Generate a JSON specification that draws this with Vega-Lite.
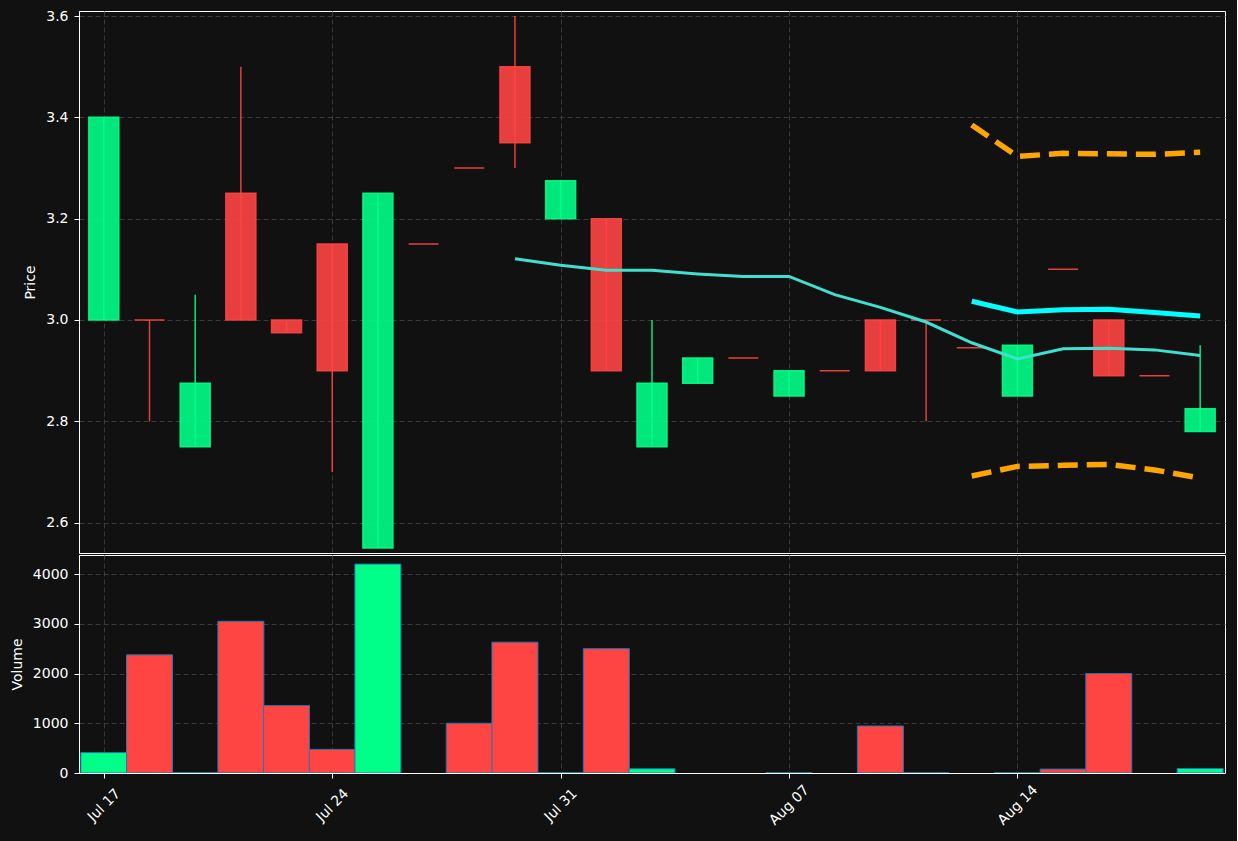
{
  "$schema": "https://vega.github.io/schema/vega-lite/v6.json",
  "background": "#111111",
  "padding": {"left": 9, "top": 8, "right": 11, "bottom": 14},
  "spacing": 0,
  "datasets": {
    "ohlc": [
      {"i": 0, "date": "2023-07-17", "open": 3.0, "high": 3.4, "low": 3.0, "close": 3.4, "dir": "up", "volume": 410, "ma": null, "fc": null, "upper": null, "lower": null},
      {"i": 1, "date": "2023-07-18", "open": 3.0, "high": 3.0, "low": 2.8, "close": 3.0, "dir": "down", "volume": 2375, "ma": null, "fc": null, "upper": null, "lower": null},
      {"i": 2, "date": "2023-07-19", "open": 2.75, "high": 3.05, "low": 2.75, "close": 2.875, "dir": "up", "volume": 8, "ma": null, "fc": null, "upper": null, "lower": null},
      {"i": 3, "date": "2023-07-20", "open": 3.25, "high": 3.5, "low": 3.0, "close": 3.0, "dir": "down", "volume": 3050, "ma": null, "fc": null, "upper": null, "lower": null},
      {"i": 4, "date": "2023-07-21", "open": 3.0, "high": 3.0, "low": 2.975, "close": 2.975, "dir": "down", "volume": 1355, "ma": null, "fc": null, "upper": null, "lower": null},
      {"i": 5, "date": "2023-07-24", "open": 3.15, "high": 3.15, "low": 2.7, "close": 2.9, "dir": "down", "volume": 475, "ma": null, "fc": null, "upper": null, "lower": null},
      {"i": 6, "date": "2023-07-25", "open": 2.55, "high": 3.25, "low": 2.55, "close": 3.25, "dir": "up", "volume": 4200, "ma": null, "fc": null, "upper": null, "lower": null},
      {"i": 7, "date": "2023-07-26", "open": 3.15, "high": 3.15, "low": 3.15, "close": 3.15, "dir": "down", "volume": null, "ma": null, "fc": null, "upper": null, "lower": null},
      {"i": 8, "date": "2023-07-27", "open": 3.3, "high": 3.3, "low": 3.3, "close": 3.3, "dir": "down", "volume": 1000, "ma": null, "fc": null, "upper": null, "lower": null},
      {"i": 9, "date": "2023-07-28", "open": 3.5, "high": 3.6, "low": 3.3, "close": 3.35, "dir": "down", "volume": 2630, "ma": 3.121, "fc": null, "upper": null, "lower": null},
      {"i": 10, "date": "2023-07-31", "open": 3.2, "high": 3.275, "low": 3.2, "close": 3.275, "dir": "up", "volume": 8, "ma": 3.108, "fc": null, "upper": null, "lower": null},
      {"i": 11, "date": "2023-08-01", "open": 3.2, "high": 3.2, "low": 2.9, "close": 2.9, "dir": "down", "volume": 2500, "ma": 3.098, "fc": null, "upper": null, "lower": null},
      {"i": 12, "date": "2023-08-02", "open": 2.75, "high": 3.0, "low": 2.75, "close": 2.875, "dir": "up", "volume": 85, "ma": 3.098, "fc": null, "upper": null, "lower": null},
      {"i": 13, "date": "2023-08-03", "open": 2.875, "high": 2.925, "low": 2.875, "close": 2.925, "dir": "up", "volume": null, "ma": 3.091, "fc": null, "upper": null, "lower": null},
      {"i": 14, "date": "2023-08-04", "open": 2.925, "high": 2.925, "low": 2.925, "close": 2.925, "dir": "down", "volume": null, "ma": 3.086, "fc": null, "upper": null, "lower": null},
      {"i": 15, "date": "2023-08-07", "open": 2.85, "high": 2.9, "low": 2.85, "close": 2.9, "dir": "up", "volume": 5, "ma": 3.086, "fc": null, "upper": null, "lower": null},
      {"i": 16, "date": "2023-08-08", "open": 2.9, "high": 2.9, "low": 2.9, "close": 2.9, "dir": "down", "volume": null, "ma": 3.05, "fc": null, "upper": null, "lower": null},
      {"i": 17, "date": "2023-08-09", "open": 3.0, "high": 3.0, "low": 2.9, "close": 2.9, "dir": "down", "volume": 945, "ma": 3.025, "fc": null, "upper": null, "lower": null},
      {"i": 18, "date": "2023-08-10", "open": 3.0, "high": 3.0, "low": 2.8, "close": 3.0, "dir": "down", "volume": 5, "ma": 2.996, "fc": null, "upper": null, "lower": null},
      {"i": 19, "date": "2023-08-11", "open": 2.945, "high": 2.945, "low": 2.945, "close": 2.945, "dir": "down", "volume": null, "ma": 2.955, "fc": 3.037, "upper": 3.385, "lower": 2.692},
      {"i": 20, "date": "2023-08-14", "open": 2.85, "high": 2.95, "low": 2.85, "close": 2.95, "dir": "up", "volume": 5, "ma": 2.923, "fc": 3.016, "upper": 3.323, "lower": 2.711},
      {"i": 21, "date": "2023-08-15", "open": 3.1, "high": 3.1, "low": 3.1, "close": 3.1, "dir": "down", "volume": 78, "ma": 2.943, "fc": 3.02, "upper": 3.329, "lower": 2.713},
      {"i": 22, "date": "2023-08-16", "open": 3.0, "high": 3.0, "low": 2.89, "close": 2.89, "dir": "down", "volume": 2000, "ma": 2.944, "fc": 3.021, "upper": 3.328, "lower": 2.715},
      {"i": 23, "date": "2023-08-17", "open": 2.89, "high": 2.89, "low": 2.89, "close": 2.89, "dir": "down", "volume": null, "ma": 2.941, "fc": 3.015, "upper": 3.327, "lower": 2.704},
      {"i": 24, "date": "2023-08-18", "open": 2.78, "high": 2.95, "low": 2.78, "close": 2.825, "dir": "up", "volume": 90, "ma": 2.93, "fc": 3.008, "upper": 3.331, "lower": 2.688}
    ]
  },
  "vconcat": [
    {
      "width": 1146,
      "height": 542,
      "data": {"name": "ohlc"},
      "encoding": {
        "x": {
          "field": "i",
          "type": "quantitative",
          "title": null,
          "scale": {"domain": [-0.434, 24.434], "nice": false, "zero": false},
          "axis": {"values": [0, 5, 10, 15, 20], "labels": false, "ticks": false, "domain": false, "grid": true, "title": null}
        }
      },
      "layer": [
        {
          "mark": {"type": "rule", "strokeWidth": 1.5, "opacity": 0.9},
          "encoding": {
            "y": {
              "field": "low",
              "type": "quantitative",
              "title": "Price",
              "scale": {"domain": [2.54, 3.61], "nice": false, "zero": false},
              "axis": {
                "values": [2.6, 2.8, 3.0, 3.2, 3.4, 3.6],
                "format": ".1f",
                "grid": true,
                "title": "Price",
                "labelFont": "DejaVu Sans",
                "labelFontSize": 14,
                "titleFont": "DejaVu Sans",
                "titleFontSize": 14,
                "titleFontWeight": "normal",
                "labelPadding": 6,
                "titlePadding": 8
              }
            },
            "y2": {"field": "high"},
            "color": {"field": "dir", "type": "nominal", "scale": {"domain": ["up", "down"], "range": ["#00FF88", "#FF4444"]}, "legend": null}
          }
        },
        {
          "mark": {"type": "bar", "width": 30, "fillOpacity": 0.9, "strokeOpacity": 0.9, "strokeWidth": 1.5},
          "encoding": {
            "y": {"field": "open", "type": "quantitative", "title": "Price"},
            "y2": {"field": "close"},
            "color": {"field": "dir", "type": "nominal", "scale": {"domain": ["up", "down"], "range": ["#00FF88", "#FF4444"]}, "legend": null},
            "stroke": {"field": "dir", "type": "nominal", "scale": {"domain": ["up", "down"], "range": ["#00FF88", "#FF4444"]}, "legend": null}
          }
        },
        {
          "mark": {"type": "line", "color": "#40E0D0", "strokeWidth": 3},
          "encoding": {"y": {"field": "ma", "type": "quantitative", "title": "Price"}}
        },
        {
          "mark": {"type": "line", "color": "#00FFFF", "strokeWidth": 5},
          "encoding": {"y": {"field": "fc", "type": "quantitative", "title": "Price"}}
        },
        {
          "mark": {"type": "line", "color": "#FFA500", "strokeWidth": 5.5, "strokeDash": [20, 9]},
          "encoding": {"y": {"field": "upper", "type": "quantitative", "title": "Price"}}
        },
        {
          "mark": {"type": "line", "color": "#FFA500", "strokeWidth": 5.5, "strokeDash": [20, 9]},
          "encoding": {"y": {"field": "lower", "type": "quantitative", "title": "Price"}}
        }
      ]
    },
    {
      "width": 1146,
      "height": 218,
      "data": {"name": "ohlc"},
      "mark": {"type": "bar", "width": 46, "stroke": "#1f77b4", "strokeWidth": 1, "clip": true},
      "encoding": {
        "x": {
          "field": "i",
          "type": "quantitative",
          "title": null,
          "scale": {"domain": [-0.434, 24.434], "nice": false, "zero": false},
          "axis": {
            "values": [0, 5, 10, 15, 20],
            "labelExpr": "['Jul 17','Jul 24','Jul 31','Aug 07','Aug 14'][round(datum.value/5)]",
            "labelAngle": -45,
            "labelAlign": "center",
            "labelBaseline": "middle",
            "labelPadding": 27,
            "labelOverlap": false,
            "labelFlush": false,
            "labelFont": "DejaVu Sans",
            "labelFontSize": 14,
            "grid": true,
            "title": null
          }
        },
        "y": {
          "field": "volume",
          "type": "quantitative",
          "title": "Volume",
          "scale": {"domain": [0, 4383], "nice": false, "zero": true},
          "axis": {
            "values": [0, 1000, 2000, 3000, 4000],
            "format": "d",
            "grid": true,
            "title": "Volume",
            "labelFont": "DejaVu Sans",
            "labelFontSize": 14,
            "titleFont": "DejaVu Sans",
            "titleFontSize": 14,
            "titleFontWeight": "normal",
            "labelPadding": 6,
            "titlePadding": 8
          }
        },
        "color": {"field": "dir", "type": "nominal", "scale": {"domain": ["up", "down"], "range": ["#00FF88", "#FF4444"]}, "legend": null}
      }
    }
  ],
  "config": {
    "view": {"stroke": "#FFFFFF", "strokeWidth": 1},
    "axis": {
      "domainColor": "#FFFFFF",
      "tickColor": "#FFFFFF",
      "labelColor": "#FFFFFF",
      "titleColor": "#FFFFFF",
      "gridColor": "#3a3a3a",
      "gridDash": [5, 3],
      "gridWidth": 1,
      "labelFont": "DejaVu Sans",
      "labelFontSize": 14,
      "titleFont": "DejaVu Sans",
      "titleFontSize": 14,
      "titleFontWeight": "normal",
      "tickSize": 5,
      "labelPadding": 6,
      "titlePadding": 8
    }
  }
}
